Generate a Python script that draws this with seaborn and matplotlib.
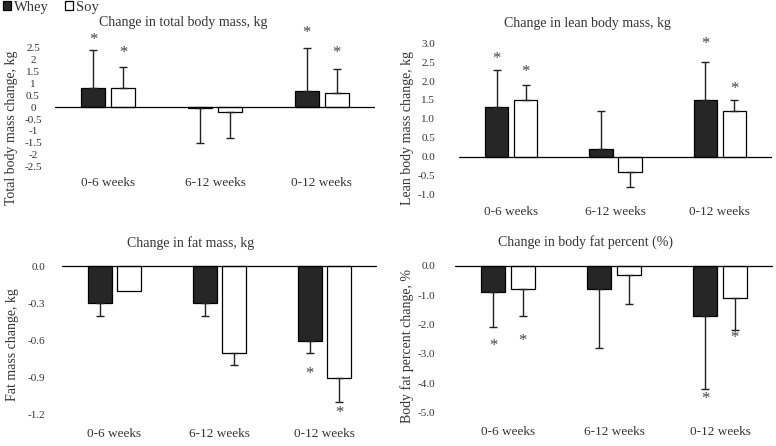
import numpy as np
import pandas as pd
import matplotlib
matplotlib.use("Agg")
import matplotlib.pyplot as plt
from matplotlib.patches import Patch
from matplotlib.container import BarContainer
import seaborn as sns

# ---------------- data ----------------
categories = ["0-6 weeks", "6-12 weeks", "0-12 weeks"]
groups = ["Whey", "Soy"]

total_whey = [0.8, -0.05, 0.7]
total_soy = [0.8, -0.2, 0.6]
total_whey_sd = [1.6, 1.45, 1.8]
total_soy_sd = [0.9, 1.1, 1.0]
total_whey_star = [2.82, None, 3.1]
total_soy_star = [2.26, None, 2.26]
total_ticks = [2.5, 2, 1.5, 1, 0.5, 0, -0.5, -1, -1.5, -2, -2.5]
total_ticklabels = ["2.5", "2", "1.5", "1", "0.5", "0", "-0.5", "-1", "-1.5", "-2", "-2.5"]

lean_whey = [1.3, 0.2, 1.5]
lean_soy = [1.5, -0.4, 1.2]
lean_whey_sd = [1.0, 1.0, 1.0]
lean_soy_sd = [0.4, 0.4, 0.3]
lean_whey_star = [2.58, None, 2.97]
lean_soy_star = [2.24, None, 1.78]
lean_ticks = [3.0, 2.5, 2.0, 1.5, 1.0, 0.5, 0.0, -0.5, -1.0]
lean_ticklabels = ["3.0", "2.5", "2.0", "1.5", "1.0", "0.5", "0.0", "-0.5", "-1.0"]

fat_whey = [-0.3, -0.3, -0.6]
fat_soy = [-0.2, -0.7, -0.9]
fat_whey_sd = [0.1, 0.1, 0.1]
fat_soy_sd = [None, 0.1, 0.2]
fat_whey_star = [None, None, -0.87]
fat_soy_star = [None, None, -1.19]
fat_ticks = [0.0, -0.3, -0.6, -0.9, -1.2]
fat_ticklabels = ["0.0", "-0.3", "-0.6", "-0.9", "-1.2"]

pct_whey = [-0.9, -0.8, -1.7]
pct_soy = [-0.8, -0.3, -1.1]
pct_whey_sd = [1.2, 2.0, 2.5]
pct_soy_sd = [0.9, 1.0, 1.1]
pct_whey_star = [-2.74, None, -4.52]
pct_soy_star = [-2.57, None, -2.46]
pct_ticks = [0.0, -1.0, -2.0, -3.0, -4.0, -5.0]
pct_ticklabels = ["0.0", "-1.0", "-2.0", "-3.0", "-4.0", "-5.0"]

# ---------------- style ----------------
sns.set_theme(style="white")
plt.rcParams["font.family"] = ["Liberation Serif", "DejaVu Serif"]
TXT = "#333333"
WHEY_C = "#262626"
SOY_C = "#ffffff"

W, H = 776, 446
fig = plt.figure(figsize=(W / 100, H / 100), dpi=100)


def axes_rect(x0, x1, v_a, p_a, v_b, p_b, ylo, yhi):
    s = (p_b - p_a) / (v_a - v_b)
    top_px = p_a - (yhi - v_a) * s
    bot_px = p_a + (v_a - ylo) * s
    return [x0 / W, 1 - bot_px / H, (x1 - x0) / W, (bot_px - top_px) / H]


panels = [
    dict(title="Change in total body mass, kg", ylabel="Total body mass change, kg",
         whey=total_whey, soy=total_soy, wsd=total_whey_sd, ssd=total_soy_sd,
         wstar=total_whey_star, sstar=total_soy_star,
         ticks=total_ticks, labels=total_ticklabels,
         rect=(55, 375, 2.5, 47.7, -2.5, 166.7, -2.74, 2.6),
         title_xy=(183, 26), ylab_x=13, ylab_y=128, pad=22, ha="center"),
    dict(title="Change in lean body mass, kg", ylabel="Lean body mass change, kg",
         whey=lean_whey, soy=lean_soy, wsd=lean_whey_sd, ssd=lean_soy_sd,
         wstar=lean_whey_star, sstar=lean_soy_star,
         ticks=lean_ticks, labels=lean_ticklabels,
         rect=(459, 772, 3.0, 43.3, -1.0, 194.3, -1.2, 3.1),
         title_xy=(587, 27.5), ylab_x=409, ylab_y=128, pad=24, ha="right"),
    dict(title="Change in fat mass, kg", ylabel="Fat mass change, kg",
         whey=fat_whey, soy=fat_soy, wsd=fat_whey_sd, ssd=fat_soy_sd,
         wstar=fat_whey_star, sstar=fat_soy_star,
         ticks=fat_ticks, labels=fat_ticklabels,
         rect=(62, 377, 0.0, 266.3, -1.2, 414.7, -1.27, 0.05),
         title_xy=(191, 246.5), ylab_x=14, ylab_y=345, pad=17, ha="right"),
    dict(title="Change in body fat percent (%)", ylabel="Body fat percent change, %",
         whey=pct_whey, soy=pct_soy, wsd=pct_whey_sd, ssd=pct_soy_sd,
         wstar=pct_whey_star, sstar=pct_soy_star,
         ticks=pct_ticks, labels=pct_ticklabels,
         rect=(455, 773, 0.0, 265.7, -5.0, 412.7, -5.32, 0.2),
         title_xy=(586, 246), ylab_x=409, ylab_y=346, pad=20, ha="right"),
]

for p in panels:
    ax = fig.add_axes(axes_rect(*p["rect"]))
    df = pd.DataFrame({
        "period": categories * 2,
        "group": ["Whey"] * 3 + ["Soy"] * 3,
        "value": list(p["whey"]) + list(p["soy"]),
    })
    sns.barplot(data=df, x="period", y="value", hue="group", order=categories,
                hue_order=groups, palette=[WHEY_C, SOY_C], width=0.56, gap=0.2,
                errorbar=None, edgecolor="black", linewidth=0.9, legend=False,
                saturation=1, ax=ax)
    sds = [p["wsd"], p["ssd"]]
    stars = [p["wstar"], p["sstar"]]
    bar_conts = [c for c in ax.containers if isinstance(c, BarContainer)]
    for gi, cont in enumerate(bar_conts):
        for ci, bar in enumerate(list(cont.patches)):
            xc = bar.get_x() + bar.get_width() / 2
            val = (p["whey"], p["soy"])[gi][ci]
            sd = sds[gi][ci]
            if sd is not None:
                yerr = [[0], [sd]] if val >= 0 else [[sd], [0]]
                ax.errorbar([xc], [val], yerr=yerr, fmt="none", ecolor="#222222",
                            elinewidth=1.0, capsize=2.6, capthick=1.0, zorder=3)
            st = stars[gi][ci]
            if st is not None:
                ax.text(xc, st, "*", ha="center", va="center", fontsize=12,
                        color="#444444", clip_on=False)
    ax.axhline(0, color="black", lw=0.9, zorder=4)
    ax.set_xlim(-0.5, 2.5)
    ax.set_ylim(p["rect"][6], p["rect"][7])
    ax.set_yticks(p["ticks"])
    ax.set_yticklabels(p["labels"])
    ax.tick_params(axis="y", length=0, pad=p["pad"] * 0.72, labelsize=8, labelcolor=TXT)
    for lab in ax.get_yticklabels():
        lab.set_ha(p["ha"])
    ax.tick_params(axis="x", length=0, pad=3, labelsize=9.5, labelcolor=TXT)
    ax.set_xlabel("")
    ax.set_ylabel(p["ylabel"], fontsize=10, color=TXT)
    ax.yaxis.set_label_coords((p["ylab_x"] + 5) / W, 1 - p["ylab_y"] / H,
                              transform=fig.transFigure)
    for s in ax.spines.values():
        s.set_visible(False)
    ax.patch.set_alpha(0)
    fig.text(p["title_xy"][0] / W, 1 - p["title_xy"][1] / H, p["title"],
             ha="center", va="baseline", fontsize=10, color=TXT)

handles = [Patch(facecolor=WHEY_C, edgecolor="black", linewidth=0.9),
           Patch(facecolor=SOY_C, edgecolor="black", linewidth=0.9)]
fig.legend(handles, groups, loc="upper left", bbox_to_anchor=(3 / W, 1 - 1 / H), ncol=2,
           frameon=False, fontsize=10.5, handlelength=0.55, handleheight=0.55,
           handletextpad=0.2, columnspacing=1.1, labelcolor=TXT,
           borderpad=0, borderaxespad=0)

fig.savefig("out.png", dpi=100)
